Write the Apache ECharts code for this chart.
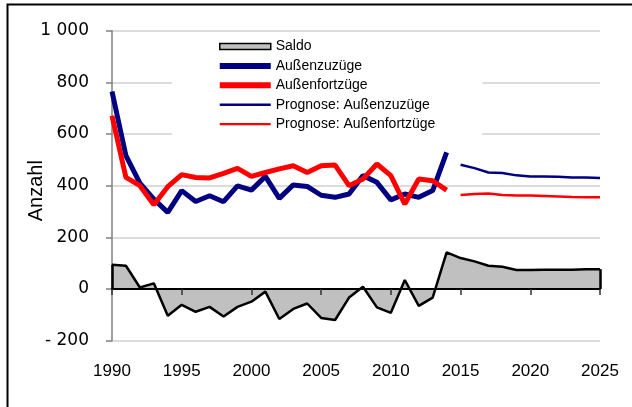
<!DOCTYPE html>
<html>
<head>
<meta charset="utf-8">
<script src="https://cdn.jsdelivr.net/npm/echarts@6/dist/echarts.min.js"></script>
<style>html,body{margin:0;padding:0;background:#fff;}#c{width:632px;height:407px;}</style>
</head>
<body>
<div id="c"></div>
<script>
var years = [];
for (var y = 1990; y <= 2025; y++) years.push(y);

var zuzuege = [765,516,410,348,297,381,339,361,338,399,383,436,351,403,397,363,355,368,439,413,345,368,355,381,529];
var fortzuege = [671,432,400,326,396,443,432,430,448,467,436,451,465,477,451,477,480,400,426,484,439,329,426,419,383];
var progYears = [2015,2016,2017,2018,2019,2020,2021,2022,2023,2024,2025];
var progZuzuege = [481,468,451,449,440,436,436,435,432,432,430];
var progFortzuege = [364,368,370,364,362,362,360,358,356,355,355];
var saldo = [94,90,6,22,-103,-61,-88,-69,-106,-69,-49,-10,-116,-77,-56,-112,-120,-33,9,-71,-92,35,-65,-33,142,120,107,90,86,74,74,75,75,75,77,77];

function pairs(xs, vs) { return vs.map(function (v, i) { return [xs[i], v]; }); }

function fmtY(v) {
  var a = Math.abs(v);
  var s = a >= 1000 ? Math.floor(a / 1000) + ' ' + String(a % 1000).padStart(3, '0') : String(a);
  return v < 0 ? '- ' + s : s;
}

var thickIcon = 'path://M0,0H51V6H0Z';
var thinIcon = 'path://M0,0M0,1.8H51V4.2H0ZM51,6';

var chart = echarts.init(document.getElementById('c'), null, {renderer: 'canvas'});
var lastX = years[years.length - 1], lastS = saldo[saldo.length - 1];

chart.setOption({
  animation: false,
  backgroundColor: '#fff',
  grid: {left: 112, right: 32, top: 30.7, bottom: 66.3, containLabel: false},
  xAxis: [{
    type: 'value', min: 1990, max: 2025, interval: 5, z: 10,
    axisLine: {show: true, onZero: true, lineStyle: {color: '#000', width: 2}},
    axisTick: {show: true, inside: false, length: 6, lineStyle: {color: '#333', width: 1.5}},
    axisLabel: {show: false},
    splitLine: {show: false}
  }, {
    type: 'value', min: 1990, max: 2025, interval: 5, position: 'bottom',
    axisLine: {show: false, onZero: false},
    axisTick: {show: false},
    axisLabel: {show: true, margin: 22, color: '#000', fontFamily: 'Liberation Sans', fontSize: 17,
      formatter: function (v) { return String(v); }},
    splitLine: {show: false}
  }],
  yAxis: {
    type: 'value', min: -200, max: 1000, interval: 200,
    name: 'Anzahl', nameLocation: 'middle', nameGap: 66, nameRotate: 90, nameMoveOverlap: false,
    nameTextStyle: {color: '#000', fontFamily: 'Liberation Sans', fontSize: 20, padding: [0, 0, 0, -10]},
    axisLine: {show: true, lineStyle: {color: '#808080', width: 1.5}},
    axisTick: {show: true, inside: false, length: 6, lineStyle: {color: '#808080', width: 1.5}},
    axisLabel: {color: '#000', fontFamily: 'DejaVu Sans', fontSize: 17, margin: 23, formatter: fmtY},
    splitLine: {show: true, lineStyle: {color: '#dcdcdc', width: 2}}
  },
  legend: {
    orient: 'vertical', left: 172, top: 34,
    padding: [3, 47, 3, 47],
    backgroundColor: '#fff',
    itemWidth: 51, itemHeight: 6, itemGap: 0.4,
    textStyle: {color: '#000', fontFamily: 'Liberation Sans', fontSize: 14, lineHeight: 19},
    data: [
      {name: 'Saldo', icon: 'rect', itemStyle: {color: '#c0c0c0', borderColor: '#000', borderWidth: 1.5}},
      {name: 'Außenzuzüge', icon: thickIcon, itemStyle: {color: '#000080', borderWidth: 0}},
      {name: 'Außenfortzüge', icon: thickIcon, itemStyle: {color: '#ff0000', borderWidth: 0}},
      {name: 'Prognose: Außenzuzüge', icon: thinIcon, itemStyle: {color: '#000080', borderWidth: 0}},
      {name: 'Prognose: Außenfortzüge', icon: thinIcon, itemStyle: {color: '#ff0000', borderWidth: 0}}
    ]
  },
  graphic: [{
    type: 'rect', z: 100, silent: true,
    shape: {x: 7.5, y: 4.5, width: 800, height: 600},
    style: {fill: null, stroke: '#000', lineWidth: 2}
  }],
  series: [{
    name: 'Saldo', type: 'line', symbol: 'none', z: 1,
    data: pairs(years, saldo),
    lineStyle: {color: '#000', width: 2.5},
    itemStyle: {color: '#c0c0c0'},
    areaStyle: {color: '#c0c0c0', opacity: 1, origin: 0},
    markLine: {
      silent: true, symbol: 'none', label: {show: false},
      lineStyle: {color: '#000', width: 2.5, type: 'solid'},
      data: [[{coord: [lastX, 0]}, {coord: [lastX, lastS]}], [{coord: [years[0], 0]}, {coord: [years[0], saldo[0]]}]]
    }
  }, {
    name: 'Außenzuzüge', type: 'line', symbol: 'none', z: 3,
    data: pairs(years, zuzuege),
    lineStyle: {color: '#000080', width: 5}, itemStyle: {color: '#000080'}
  }, {
    name: 'Außenfortzüge', type: 'line', symbol: 'none', z: 4,
    data: pairs(years, fortzuege),
    lineStyle: {color: '#ff0000', width: 5}, itemStyle: {color: '#ff0000'}
  }, {
    name: 'Prognose: Außenzuzüge', type: 'line', symbol: 'none', z: 3,
    data: pairs(progYears, progZuzuege),
    lineStyle: {color: '#000080', width: 2.5}, itemStyle: {color: '#000080'}
  }, {
    name: 'Prognose: Außenfortzüge', type: 'line', symbol: 'none', z: 3,
    data: pairs(progYears, progFortzuege),
    lineStyle: {color: '#ff0000', width: 2.5}, itemStyle: {color: '#ff0000'}
  }]
});
</script>
</body>
</html>
